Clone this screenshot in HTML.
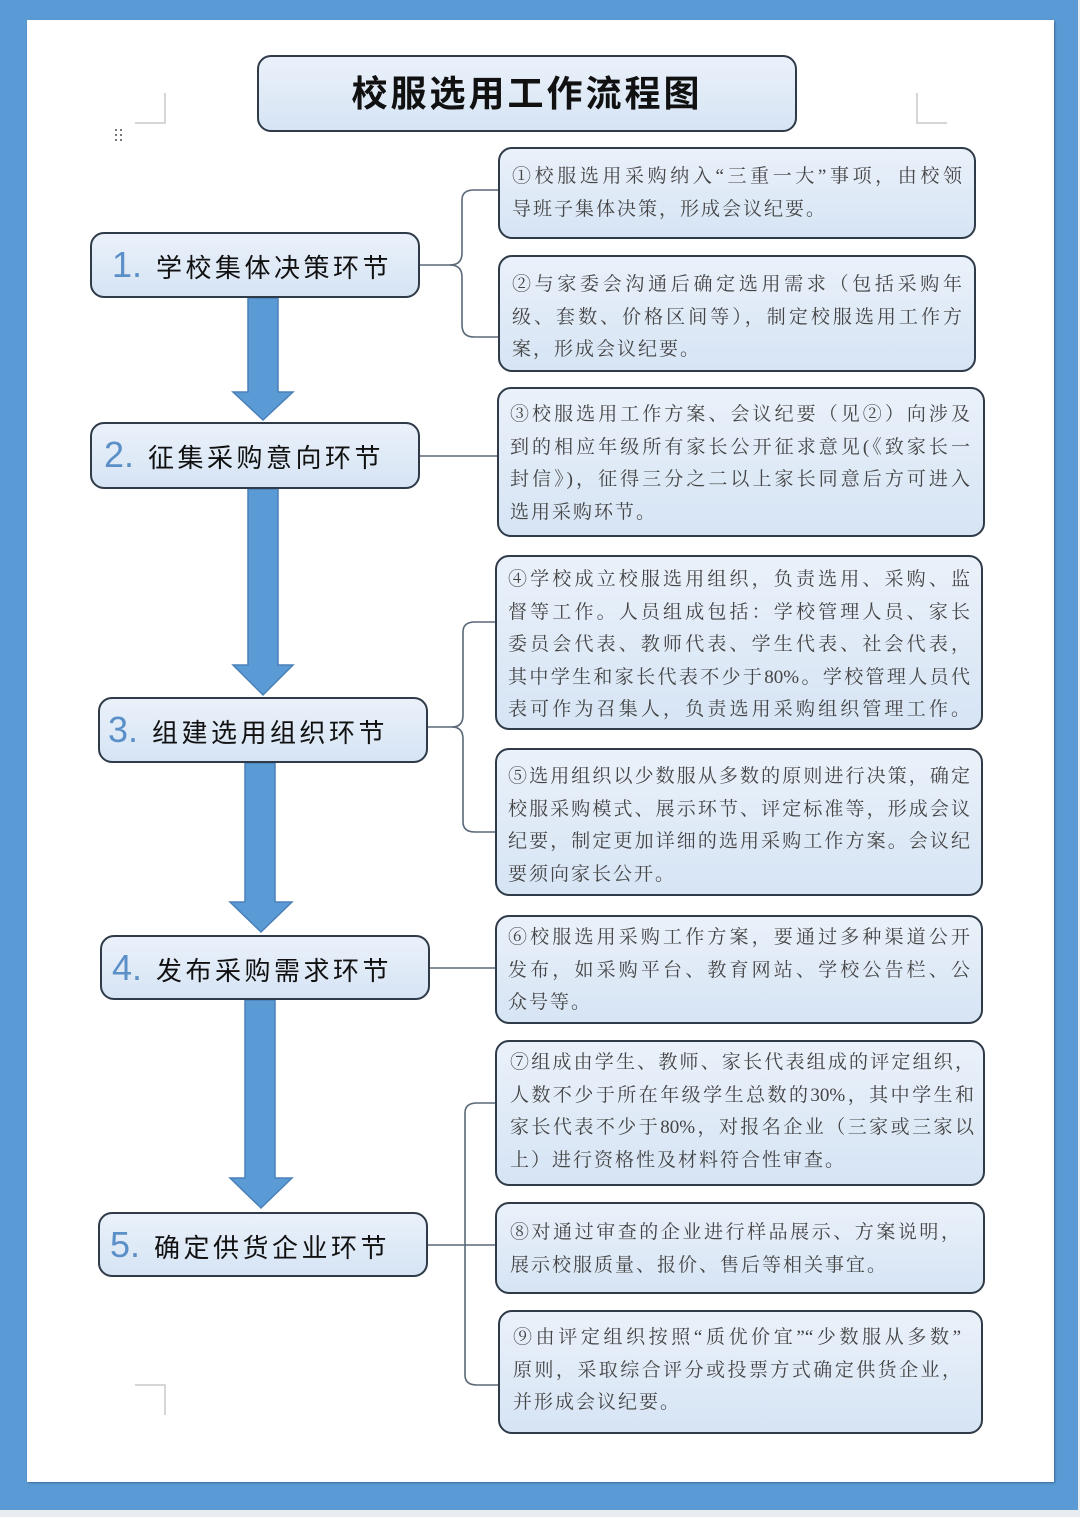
<!DOCTYPE html>
<html><head><meta charset="utf-8"><style>
html,body{margin:0;padding:0}
body{width:1080px;height:1517px;position:relative;background:#e8ecf0;overflow:hidden;font-family:"Liberation Sans","Noto Sans CJK SC",sans-serif}
.blue{position:absolute;left:0;top:0;width:1078px;height:1510px;background:#5b9bd5}
.white{position:absolute;left:27px;top:20px;width:1027px;height:1462px;background:#fff;box-shadow:1px 1px 2px #3a6a9a}
.box{position:absolute;box-sizing:border-box;border:2px solid #2f3b48;border-radius:14px;background:linear-gradient(#eaf1fa,#d6e4f4)}
.lb{font-size:26px;color:#111;letter-spacing:3.5px;line-height:62px;white-space:nowrap}
.lb b{font-weight:normal;color:#5b8fc7;font-size:36px;font-family:"Liberation Sans",sans-serif;margin-right:14px;letter-spacing:0}
.rt{position:absolute;font-family:"Liberation Serif","Noto Serif CJK SC",serif;font-size:19px;color:#444;line-height:32.6px}
.rt div{white-space:nowrap;text-align:justify;text-align-last:justify}
.rt div.l{text-align-last:left;letter-spacing:2px}
</style></head><body>
<div class="blue"></div>
<div class="white"></div>
<svg width="1080" height="1517" style="position:absolute;left:0;top:0">
<g stroke="#c8c8c8" stroke-width="1.5" fill="none">
<path d="M165,93V123H135"/><path d="M917,93V123H947"/><path d="M135,1385H165V1415"/>
</g>
<g fill="#777"><rect x="115" y="129" width="2" height="2"/><rect x="120" y="129" width="2" height="2"/><rect x="115" y="134" width="2" height="2"/><rect x="120" y="134" width="2" height="2"/><rect x="115" y="139" width="2" height="2"/><rect x="120" y="139" width="2" height="2"/></g>
<g fill="#5b9bd5" stroke="#4a80b8" stroke-width="1.5">
<polygon points="248,298 278,298 278,392 293,392 263,420 233,392 248,392"/>
<polygon points="248,489 278,489 278,665 293,665 263,695 233,665 248,665"/>
<polygon points="245,763 275,763 275,902 292,902 261,932 230,902 245,902"/>
<polygon points="245,1000 275,1000 275,1178 292,1178 261,1208 230,1178 245,1178"/>
</g>
<g stroke="#5a6878" stroke-width="1.6" fill="none">
<path d="M420,265H450Q462,265 462,253V200Q462,190 474,190H498"/>
<path d="M450,265Q462,265 462,277V325Q462,337 474,337H498"/>
<path d="M420,456H497"/>
<path d="M428,727H452Q463,727 463,715V632Q463,622 475,622H495"/>
<path d="M452,727Q463,727 463,739V822Q463,832 475,832H495"/>
<path d="M430,968H495"/>
<path d="M428,1245H465V1113Q465,1103 477,1103H495"/>
<path d="M465,1245H495"/>
<path d="M465,1245V1375Q465,1385 477,1385H498"/>
</g>
</svg>
<div class="box" style="left:257px;top:55px;width:540px;height:77px;text-align:center;font-size:36px;font-weight:bold;letter-spacing:3px;line-height:73px;color:#111">校服选用工作流程图</div>

<div class="box lb" style="left:90px;top:232px;width:330px;height:66px;padding-left:20px"><b>1.</b>学校集体决策环节</div>
<div class="box lb" style="left:90px;top:422px;width:330px;height:67px;padding-left:12px"><b>2.</b>征集采购意向环节</div>
<div class="box lb" style="left:98px;top:697px;width:330px;height:66px;padding-left:8px"><b>3.</b>组建选用组织环节</div>
<div class="box lb" style="left:100px;top:935px;width:330px;height:65px;padding-left:10px"><b>4.</b>发布采购需求环节</div>
<div class="box lb" style="left:98px;top:1212px;width:330px;height:65px;padding-left:10px"><b>5.</b>确定供货企业环节</div>

<div class="box" style="left:498px;top:147px;width:478px;height:92px"></div>
<div class="rt" style="left:512px;top:161px;width:450px"><div>①校服选用采购纳入“三重一大”事项，由校领</div><div class="l">导班子集体决策，形成会议纪要。</div></div>

<div class="box" style="left:498px;top:255px;width:478px;height:117px"></div>
<div class="rt" style="left:512px;top:269px;width:450px"><div>②与家委会沟通后确定选用需求（包括采购年</div><div>级、套数、价格区间等），制定校服选用工作方</div><div class="l">案，形成会议纪要。</div></div>

<div class="box" style="left:497px;top:387px;width:488px;height:150px"></div>
<div class="rt" style="left:510px;top:399px;width:460px"><div>③校服选用工作方案、会议纪要（见②）向涉及</div><div>到的相应年级所有家长公开征求意见(《致家长一</div><div>封信》)，征得三分之二以上家长同意后方可进入</div><div class="l">选用采购环节。</div></div>

<div class="box" style="left:495px;top:555px;width:488px;height:175px"></div>
<div class="rt" style="left:508px;top:564px;width:462px"><div>④学校成立校服选用组织，负责选用、采购、监</div><div>督等工作。人员组成包括：学校管理人员、家长</div><div>委员会代表、教师代表、学生代表、社会代表，</div><div>其中学生和家长代表不少于80%。学校管理人员代</div><div>表可作为召集人，负责选用采购组织管理工作。</div></div>

<div class="box" style="left:495px;top:748px;width:488px;height:148px"></div>
<div class="rt" style="left:508px;top:761px;width:462px"><div>⑤选用组织以少数服从多数的原则进行决策，确定</div><div>校服采购模式、展示环节、评定标准等，形成会议</div><div>纪要，制定更加详细的选用采购工作方案。会议纪</div><div class="l">要须向家长公开。</div></div>

<div class="box" style="left:495px;top:915px;width:488px;height:109px"></div>
<div class="rt" style="left:508px;top:922px;width:462px"><div>⑥校服选用采购工作方案，要通过多种渠道公开</div><div>发布，如采购平台、教育网站、学校公告栏、公</div><div class="l">众号等。</div></div>

<div class="box" style="left:495px;top:1040px;width:490px;height:146px"></div>
<div class="rt" style="left:510px;top:1047px;width:464px"><div>⑦组成由学生、教师、家长代表组成的评定组织，</div><div>人数不少于所在年级学生总数的30%，其中学生和</div><div>家长代表不少于80%，对报名企业（三家或三家以</div><div class="l">上）进行资格性及材料符合性审查。</div></div>

<div class="box" style="left:495px;top:1202px;width:490px;height:92px"></div>
<div class="rt" style="left:510px;top:1217px;width:450px"><div>⑧对通过审查的企业进行样品展示、方案说明，</div><div class="l">展示校服质量、报价、售后等相关事宜。</div></div>

<div class="box" style="left:498px;top:1310px;width:485px;height:124px"></div>
<div class="rt" style="left:513px;top:1322px;width:448px"><div>⑨由评定组织按照“质优价宜”“少数服从多数”</div><div>原则，采取综合评分或投票方式确定供货企业，</div><div class="l">并形成会议纪要。</div></div>
</body></html>
